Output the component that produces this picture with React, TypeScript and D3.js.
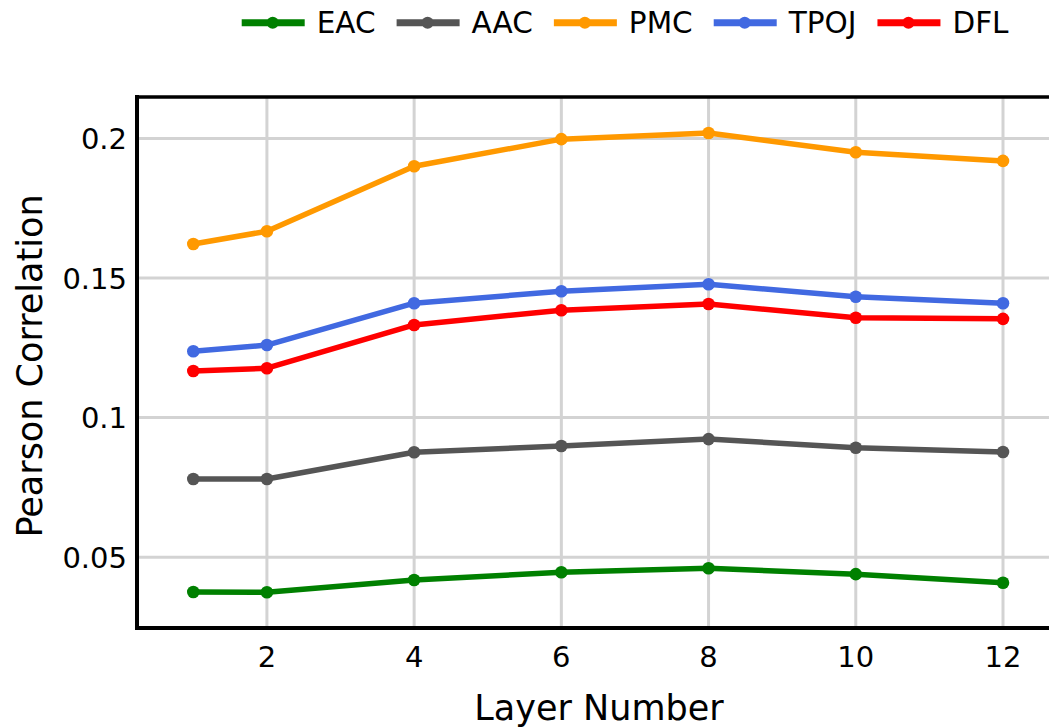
import React, { useEffect, useRef } from "react";
import * as d3 from "d3";

const layers = [1, 2, 4, 6, 8, 10, 12];
const seriesNames = ["EAC", "AAC", "PMC", "TPOJ", "DFL"];
const seriesColors = ["#008000", "#555555", "#ff9900", "#4169e1", "#ff0000"];
const eac = [0.0375, 0.0374, 0.0418, 0.0446, 0.046, 0.0439, 0.0408];
const aac = [0.078, 0.078, 0.0876, 0.0898, 0.0923, 0.0892, 0.0877];
const pmc = [0.1622, 0.1668, 0.1901, 0.1998, 0.202, 0.1951, 0.192];
const tpoj = [0.1238, 0.126, 0.141, 0.1453, 0.1478, 0.1433, 0.141];
const dfl = [0.1167, 0.1177, 0.1332, 0.1385, 0.1407, 0.1358, 0.1354];
const seriesValues = [eac, aac, pmc, tpoj, dfl];
const xTicks = [2, 4, 6, 8, 10, 12];
const yTicks = [0.05, 0.1, 0.15, 0.2];
const yTickLabels = ["0.05", "0.1", "0.15", "0.2"];

const W = 1049;
const H = 728;
const FONT = "'DejaVu Sans', Verdana, sans-serif";

export default function App() {
  const ref = useRef<SVGSVGElement | null>(null);

  useEffect(() => {
    const svg = d3.select(ref.current);
    svg.selectAll("*").remove();

    const left = 137, right = 1049, top = 97, bottom = 628;
    const x = d3.scaleLinear().domain([0.235, 12.625]).range([left, right]);
    const y = d3.scaleLinear().domain([0.0246, 0.2149]).range([bottom, top]);

    const grid = svg.append("g");
    xTicks.forEach((t) => {
      grid.append("line").attr("x1", x(t)).attr("x2", x(t)).attr("y1", top).attr("y2", bottom)
        .attr("stroke", "#d3d3d3").attr("stroke-width", 3);
    });
    yTicks.forEach((t) => {
      grid.append("line").attr("x1", left).attr("x2", right).attr("y1", y(t)).attr("y2", y(t))
        .attr("stroke", "#d3d3d3").attr("stroke-width", 3);
    });

    // axes lines
    svg.append("line").attr("x1", left - 2).attr("x2", right).attr("y1", top).attr("y2", top)
      .attr("stroke", "#000").attr("stroke-width", 3.5);
    svg.append("line").attr("x1", left - 2).attr("x2", right).attr("y1", bottom).attr("y2", bottom)
      .attr("stroke", "#000").attr("stroke-width", 4);
    svg.append("line").attr("x1", left).attr("x2", left).attr("y1", top - 2).attr("y2", bottom + 2)
      .attr("stroke", "#000").attr("stroke-width", 4);

    // tick labels
    xTicks.forEach((t) => {
      svg.append("text").attr("x", x(t)).attr("y", 667).attr("text-anchor", "middle")
        .attr("font-family", FONT).attr("font-size", 29).attr("fill", "#000").text(String(t));
    });
    yTicks.forEach((t, i) => {
      svg.append("text").attr("x", 127).attr("y", y(t) + 10.5).attr("text-anchor", "end")
        .attr("font-family", FONT).attr("font-size", 29).attr("fill", "#000").text(yTickLabels[i]);
    });

    // axis titles
    svg.append("text").attr("x", (left + right) / 2 + 6).attr("y", 720).attr("text-anchor", "middle")
      .attr("font-family", FONT).attr("font-size", 35).attr("fill", "#000").text("Layer Number");
    svg.append("text").attr("transform", `translate(42,366) rotate(-90)`).attr("text-anchor", "middle")
      .attr("font-family", FONT).attr("font-size", 35).attr("fill", "#000").text("Pearson Correlation");

    // series
    const line = d3.line<number>().x((_, i) => x(layers[i])).y((d) => y(d));
    seriesValues.forEach((vals, si) => {
      const g = svg.append("g");
      g.append("path").attr("d", line(vals) as string).attr("fill", "none")
        .attr("stroke", seriesColors[si]).attr("stroke-width", 5.5).attr("stroke-linejoin", "round");
      vals.forEach((v, i) => {
        g.append("circle").attr("cx", x(layers[i])).attr("cy", y(v)).attr("r", 6.3)
          .attr("fill", seriesColors[si]);
      });
    });

    // legend
    let lx = 241.7;
    const ly = 22.7;
    seriesNames.forEach((name, i) => {
      const g = svg.append("g");
      g.append("line").attr("x1", lx).attr("x2", lx + 63).attr("y1", ly).attr("y2", ly)
        .attr("stroke", seriesColors[i]).attr("stroke-width", 7);
      g.append("circle").attr("cx", lx + 31).attr("cy", ly).attr("r", 6).attr("fill", seriesColors[i]);
      const t = g.append("text").attr("x", lx + 75).attr("y", ly + 10.5)
        .attr("font-family", FONT).attr("font-size", 29.5).attr("fill", "#000").text(name);
      const w = (t.node() as SVGTextElement).getComputedTextLength();
      lx = lx + 75 + w + 21;
    });
  }, []);

  return (
    <svg ref={ref} width={W} height={H} style={{ position: "absolute", left: 0, top: 0, background: "#fff" }} />
  );
}
